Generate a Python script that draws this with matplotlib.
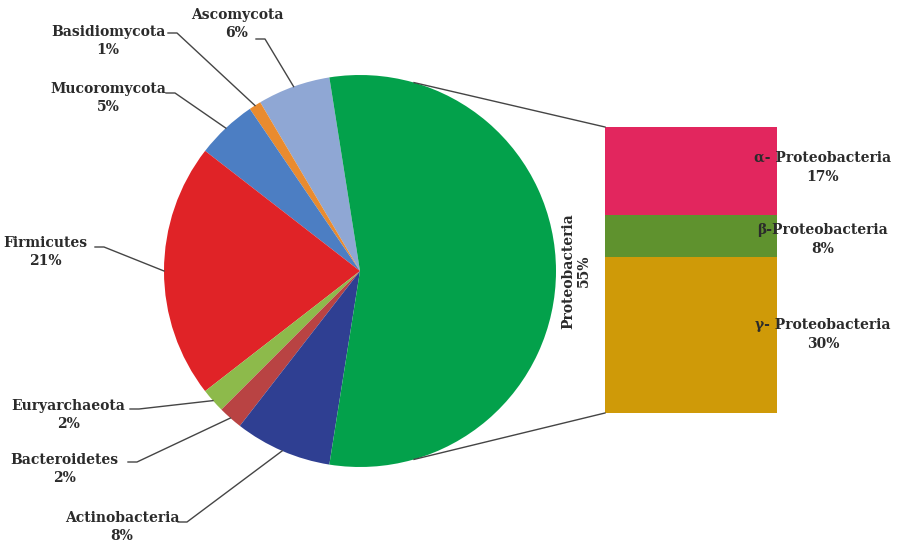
import numpy as np
from matplotlib import pyplot as plt

# pie slices, counter-clockwise from the top
names = ["Ascomycota", "Basidiomycota", "Mucoromycota", "Firmicutes",
         "Euryarchaeota", "Bacteroidetes", "Actinobacteria", "Proteobacteria"]
shares = [6, 1, 5, 21, 2, 2, 8, 55]
pie_colors = ["#8FA7D4", "#E98B2F", "#4C7EC3", "#E02327",
              "#8DBA4B", "#B94343", "#2F3F92", "#03A14B"]

# Proteobacteria split (top to bottom)
sub_names = ["\u03b1- Proteobacteria", "\u03b2-Proteobacteria", "\u03b3- Proteobacteria"]
sub_shares = [17, 8, 30]
sub_colors = ["#E2265E", "#5F922E", "#CF9A08"]

W, H = 900, 547
Y = lambda y: H - y

fig = plt.figure(figsize=(9, 5.47), dpi=100)
ax = fig.add_axes([0, 0, 1, 1])

cx, cy, r = 360, Y(271), 196
wedges, _ = ax.pie(shares, colors=pie_colors, startangle=99, counterclock=True,
                   center=(cx, cy), radius=r, wedgeprops=dict(linewidth=0))

font = dict(family="DejaVu Serif", fontweight="bold", fontsize=10, color="#2b2b2b")

# label text centre and start of its leader line (pixel coords, y down)
label_pos = {
    "Ascomycota": (237, 24, 256, 39),
    "Basidiomycota": (108, 41, 168, 33),
    "Mucoromycota": (108, 98, 166, 93),
    "Firmicutes": (45, 252, 95, 247),
    "Euryarchaeota": (68, 415, 130, 409),
    "Bacteroidetes": (64, 469, 128, 462),
    "Actinobacteria": (122, 527, 178, 522),
}

for w, name, share in zip(wedges, names, shares):
    if name not in label_pos:
        continue
    tx, ty, lx, ly = label_pos[name]
    ang = np.deg2rad((w.theta1 + w.theta2) / 2)
    px, py = cx + r * np.cos(ang), cy + r * np.sin(ang)
    ax.text(tx, Y(ty), f"{name}\n{share}%", ha="center", va="center",
            linespacing=1.3, **font)
    ax.plot([lx, lx + 9, px], [Y(ly), Y(ly), py], color="#454545", lw=1)

# Proteobacteria label, vertical
ax.text(576, Y(271), f"{names[-1]}\n{shares[-1]}%", rotation=90, ha="center",
        va="center", linespacing=1.2, **font)

# stacked bar
bx, bw = 605, 172
scale = (413 - 127) / sum(sub_shares)
top = Y(127)
sub_label_y = [158, 230, 325]
for name, share, col, ly in zip(sub_names, sub_shares, sub_colors, sub_label_y):
    h = share * scale
    ax.bar(bx + bw / 2, h, width=bw, bottom=top - h, color=col, linewidth=0)
    ax.text(823, Y(ly), name, ha="center", va="center", **font)
    ax.text(823, Y(ly + 19), f"{share}%", ha="center", va="center", **font)
    top -= h

# connector lines from pie to bar
ca = np.deg2rad(74)
ax.plot([cx + r * np.cos(ca), bx], [cy + r * np.sin(ca), Y(127)], color="#454545", lw=1)
ax.plot([cx + r * np.cos(ca), bx], [cy - r * np.sin(ca), Y(413)], color="#454545", lw=1)

ax.set_xlim(0, W)
ax.set_ylim(0, H)
ax.set_aspect("equal")
ax.axis("off")

plt.savefig("out.png", dpi=100)
